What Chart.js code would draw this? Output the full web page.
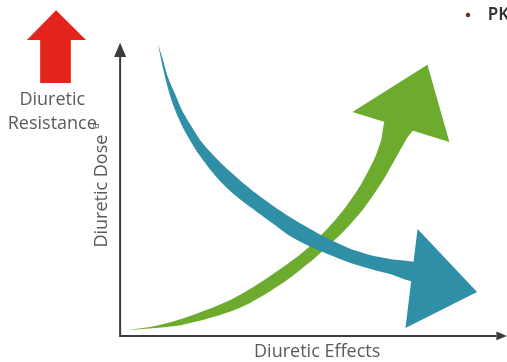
<!DOCTYPE html>
<html>
<head>
<meta charset="utf-8">
<title>Diuretic Dose vs Diuretic Effects</title>
<script src="https://cdn.jsdelivr.net/npm/chart.js@4/dist/chart.umd.min.js"></script>
<style>
  html, body { margin: 0; padding: 0; background: #ffffff; }
  canvas { display: block; }
</style>
</head>
<body>
<canvas id="c" width="507" height="362"></canvas>
<script>
// Axis text
const xTitle = 'Diuretic Effects';
const yTitle = 'Diuretic Dose';
const yNote = 'a';
const resistanceLines = ['Diuretic', 'Resistance'];
const bulletText = 'PK';

// Visible extent of the effect (x) and dose (y) scales
const effectRange = [-31.7, 102.1];
const doseRange = [-9, 116];

// Green band (effect climbs with dose): its two edges from the tail to the head
const effectUpper = [
  [1.8, 2.0], [9.2, 3.4], [16.3, 5.9], [22.9, 9.0], [29.5, 12.7], [34.3, 16.2],
  [38.8, 20.0], [43.0, 23.8], [47.0, 27.6], [50.6, 31.7], [54.1, 36.2], [57.2, 40.7],
  [60.1, 45.6], [62.8, 50.7], [65.2, 56.3], [67.3, 61.8], [68.9, 67.7], [70.5, 75.3]
];
const effectLower = [
  [1.8, 2.0], [9.2, 2.7], [16.3, 3.8], [22.9, 5.9], [29.5, 8.6], [34.3, 11.4],
  [38.8, 14.8], [43.3, 18.6], [47.5, 22.8], [51.4, 26.9], [54.9, 31.1], [58.3, 35.2],
  [61.5, 39.7], [64.4, 44.2], [67.0, 49.0], [69.6, 54.2], [72.0, 59.7], [73.9, 64.2],
  [75.7, 68.3], [77.3, 71.8]
];
const effectHead = [[61.3, 77.3], [81.1, 93.6], [86.9, 67.0]];

// Teal band (response falls away): its two edges from the tail to the head
const doseUpper = [
  [10.0, 100.8], [11.3, 95.3], [12.6, 89.4], [14.5, 83.5], [16.3, 78.0], [18.6, 72.8],
  [21.1, 67.7], [24.3, 62.8], [27.7, 58.3], [31.6, 53.8], [36.1, 49.0], [40.4, 44.9],
  [44.8, 41.1], [49.3, 37.6], [53.5, 34.5], [58.0, 31.7], [62.5, 29.3], [67.0, 27.6],
  [71.2, 26.6], [78.9, 24.8]
];
const doseLower = [
  [10.0, 100.8], [11.1, 93.6], [12.4, 86.6], [14.0, 79.7], [16.1, 73.2], [18.4, 67.7],
  [21.1, 62.1], [24.3, 56.6], [27.9, 51.4], [31.9, 46.9], [36.1, 42.8], [40.4, 38.7],
  [44.8, 34.5], [49.3, 31.4], [53.5, 29.0], [58.0, 26.6], [62.5, 24.5], [67.0, 22.8],
  [71.2, 21.4], [77.8, 19.0]
];
const doseHead = [[78.5, 36.9], [94.2, 15.2], [75.3, 2.7]];

// Red "resistance" arrow
const resistanceArrow = [
  [-21.1, 87.3], [-21.1, 102.2], [-24.6, 102.2], [-16.9, 112.5],
  [-9.0, 102.2], [-13.0, 102.2], [-13.0, 87.3]
];

// Axis lines and their arrow heads
const axisLines = [[0, 96.3], [0, 0], [99.3, 0]];
const yAxisHead = [[-1.6, 96.3], [0, 101.2], [1.6, 96.3]];
const xAxisHead = [[99.3, 1.5], [102.1, 0], [99.3, -1.5]];

const pts = arr => arr.map(([x, y]) => ({ x, y }));
// closed outline of a band: out along one edge, back along the other
const outline = (upper, lower) => upper.concat(lower.slice(1).reverse());

const GREEN = '#6cab2d';
const TEAL = '#2f8fa6';
const RED = '#e3231c';
const AXIS = '#3c3c3c';
const TEXT = '#5a5a5a';

function shape(data, color, order, tension) {
  return {
    data: pts(data),
    backgroundColor: color,
    borderColor: color,
    borderWidth: 0,
    pointRadius: 0,
    pointHoverRadius: 0,
    fill: 'shape',
    tension: tension || 0,
    order: order
  };
}

const textPlugin = {
  id: 'diagramText',
  afterDatasetsDraw(chart) {
    const { ctx } = chart;
    const sx = chart.scales.x, sy = chart.scales.y;
    const X = v => sx.getPixelForValue(v);
    const Y = v => sy.getPixelForValue(v);
    ctx.save();
    ctx.fillStyle = TEXT;
    ctx.textAlign = 'center';
    ctx.textBaseline = 'middle';
    ctx.font = '18px "Open Sans"';
    ctx.fillText(resistanceLines[0], X(-17.9), Y(81.5));
    ctx.fillText(resistanceLines[1], X(-17.9), Y(73.2));
    ctx.fillText(xTitle, X(52.0), Y(-5.4));

    ctx.save();
    ctx.translate(X(-4.8), Y(50.0));
    ctx.rotate(-Math.PI / 2);
    ctx.fillText(yTitle, 0, 0);
    ctx.restore();

    ctx.save();
    ctx.translate(X(-6.4), Y(72.5));
    ctx.rotate(-Math.PI / 2);
    ctx.font = '10px "Open Sans"';
    ctx.fillText(yNote, 0, 0);
    ctx.restore();

    // bullet item at the top right
    ctx.fillStyle = '#7a2a2a';
    ctx.beginPath();
    ctx.arc(X(91.8), Y(110.8), 2.2, 0, Math.PI * 2);
    ctx.fill();
    ctx.fillStyle = '#333333';
    ctx.textAlign = 'left';
    ctx.font = '600 17px "Noto Sans", sans-serif';
    ctx.fillText(bulletText, X(97.0), Y(110.8));
    ctx.restore();
  }
};

new Chart(document.getElementById('c'), {
  type: 'line',
  data: {
    datasets: [
      shape(doseHead, TEAL, 0),
      shape(outline(doseUpper, doseLower), TEAL, 1, 0.3),
      shape(effectHead, GREEN, 2),
      shape(outline(effectUpper, effectLower), GREEN, 3, 0.3),
      shape(resistanceArrow, RED, 4),
      shape(yAxisHead, AXIS, 5),
      shape(xAxisHead, AXIS, 6),
      {
        data: pts(axisLines),
        borderColor: AXIS,
        borderWidth: 2,
        pointRadius: 0,
        fill: false,
        tension: 0,
        order: 7
      }
    ]
  },
  options: {
    responsive: false,
    animation: false,
    events: [],
    layout: { padding: 0 },
    plugins: { legend: { display: false }, tooltip: { enabled: false }, title: { display: false } },
    scales: {
      x: { type: 'linear', display: false, min: effectRange[0], max: effectRange[1] },
      y: { type: 'linear', display: false, min: doseRange[0], max: doseRange[1] }
    }
  },
  plugins: [textPlugin]
});
</script>
</body>
</html>
